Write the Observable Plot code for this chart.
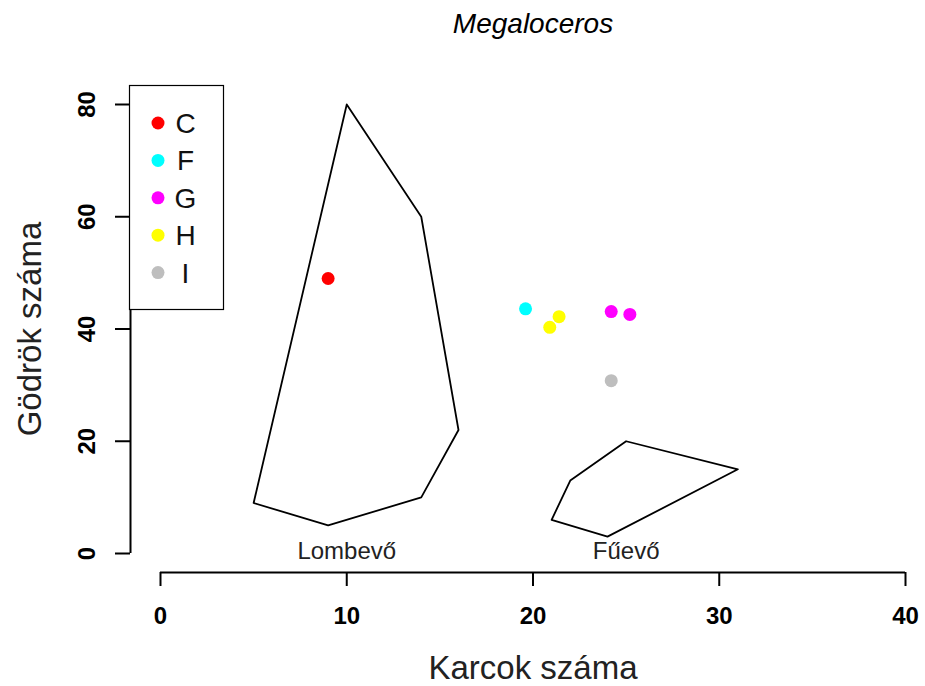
<!DOCTYPE html>
<html>
<head>
<meta charset="utf-8">
<script src="https://cdn.jsdelivr.net/npm/d3@7"></script>
<script src="https://cdn.jsdelivr.net/npm/@observablehq/plot@0.6"></script>
<style>
  html, body { margin: 0; padding: 0; background: #fff; }
  #chart svg { display: block; font-family: "Liberation Sans", Arial, sans-serif; }
</style>
</head>
<body>
<div id="chart"></div>
<script>
// Specimen measurements: group, scratch count (Karcok), pit count (Gödrök)
const groups = ["C", "F", "G", "G", "H", "H", "I"];
const karcok = [9.0, 19.6, 24.2, 25.2, 21.4, 20.9, 24.2];
const godrok = [49.0, 43.6, 43.1, 42.6, 42.2, 40.3, 30.8];

// Legend / colour definitions
const groupNames = ["C", "F", "G", "H", "I"];
const groupColors = ["#FF0000", "#00FFFF", "#FF00FF", "#FFFF00", "#BEBEBE"];

// Reference ranges (convex hulls) for browsers and grazers
const lombevoX = [10, 14, 16, 14, 9, 5];
const lombevoY = [80, 60, 22, 10, 5, 9];
const fuevoX = [25, 31, 24, 21, 22];
const fuevoY = [20, 15, 3, 6, 13];

const xTicks = [0, 10, 20, 30, 40];
const yTicks = [0, 20, 40, 60, 80];

const points = groups.map((g, i) => ({group: g, x: karcok[i], y: godrok[i]}));
const hull = (xs, ys, name) => xs.map((x, i) => ({x, y: ys[i], name}));
const hulls = [...hull(lombevoX, lombevoY, "Lombevő"), ...hull(fuevoX, fuevoY, "Fűevő")];
const hullLabels = [{name: "Lombevő", x: 10, y: 0}, {name: "Fűevő", x: 25, y: 0}];

const tickFont = {fontSize: 24, fontWeight: "bold", fill: "#000", lineAnchor: "middle"};

const chart = Plot.plot({
  width: 925,
  height: 686,
  marginLeft: 160,
  marginRight: 20,
  marginTop: 104,
  marginBottom: 133,
  x: {domain: [0, 40]},
  y: {domain: [0, 80]},
  color: {domain: groupNames, range: groupColors},
  marks: [
    // axis lines, offset from the data region
    Plot.ruleY([0], {x1: 0, x2: 40, dy: 19, stroke: "#000", strokeWidth: 2}),
    Plot.ruleX([0], {y1: 0, y2: 80, dx: -30, stroke: "#000", strokeWidth: 2}),
    Plot.axisX({ticks: xTicks, tickFormat: () => "", anchor: "bottom", dy: 19, tickSize: 14, strokeWidth: 2, label: null}),
    Plot.axisY({ticks: yTicks, tickFormat: () => "", anchor: "left", dx: -30, tickSize: 15, strokeWidth: 2, label: null}),
    // tick labels (y labels run parallel to the axis)
    Plot.text(xTicks, {x: d => d, frameAnchor: "bottom", dy: 63, text: d => d, ...tickFont}),
    Plot.text(yTicks, {y: d => d, frameAnchor: "left", dx: -73, rotate: -90, textAnchor: "middle", text: d => d, ...tickFont}),
    // reference polygons
    Plot.line(hulls, {x: "x", y: "y", z: "name", curve: "linear-closed", stroke: "#000", strokeWidth: 1.8}),
    Plot.text(hullLabels, {x: "x", y: "y", text: "name", fontSize: 24, fill: "#222", lineAnchor: "middle", dy: -2}),
    // specimens
    Plot.dot(points, {x: "x", y: "y", fill: "group", r: 6.5, stroke: null}),
    // title and axis titles
    Plot.text(["Megaloceros"], {frameAnchor: "top", dy: -80, fontSize: 28, fontStyle: "italic", lineAnchor: "middle", fill: "#000"}),
    Plot.text(["Karcok száma"], {frameAnchor: "bottom", dy: 115, fontSize: 33, lineAnchor: "middle", fill: "#222"}),
    Plot.text(["Gödrök száma"], {frameAnchor: "left", dx: -130, rotate: -90, fontSize: 33, lineAnchor: "middle", textAnchor: "middle", fill: "#222"})
  ]
});

// Legend box in the top-left corner of the plotting region
const svg = d3.select(chart);
const lg = svg.append("g").attr("transform", "translate(129.5,85.5)");
lg.append("rect").attr("width", 94).attr("height", 224)
  .attr("fill", "#fff").attr("stroke", "#000").attr("stroke-width", 1.2);
groupNames.forEach((g, i) => {
  const cy = 37.5 + i * 37.4;
  lg.append("circle").attr("cx", 28.5).attr("cy", cy).attr("r", 6.5).attr("fill", groupColors[i]);
  lg.append("text").attr("x", 56).attr("y", cy).attr("dy", "0.36em")
    .attr("font-size", 28).attr("fill", "#111").text(g);
});

document.getElementById("chart").append(chart);
</script>
</body>
</html>
